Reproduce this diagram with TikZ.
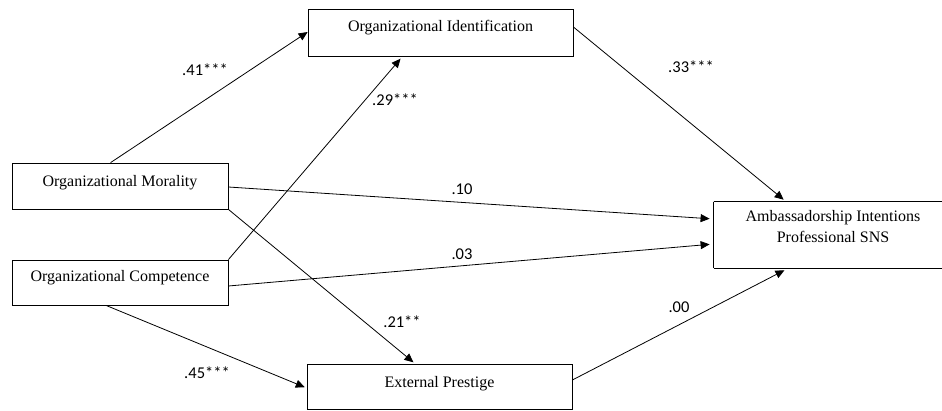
\documentclass[tikz,border=0pt]{standalone}
\usepackage{fontspec}
\setmainfont{Liberation Serif}
\newfontfamily\labelfont{Carlito}
\usetikzlibrary{arrows.meta,calc}
\tikzset{
  boxnode/.style={draw, line width=0.8pt, inner sep=0pt, font=\fontsize{16}{21}\selectfont},
  pathlabel/.style={inner sep=0pt, font=\labelfont\fontsize{16.5}{18}\selectfont},
  conn/.style={line width=0.8pt, -{Triangle[length=9pt,width=8pt]}}
}
\begin{document}
\begin{tikzpicture}[x=1pt,y=-1pt]
\useasboundingbox (0,0) rectangle (942,411);
% boxes
\node[boxnode, minimum width=265pt, text height=23pt, text depth=24pt] (OI) at (440.5,32.5) {Organizational Identification};
\node[boxnode, minimum width=216pt, text height=24pt, text depth=22pt] (OM) at (120,186) {Organizational Morality};
\node[boxnode, minimum width=216pt, text height=22pt, text depth=23pt] (OC) at (120,282.5) {Organizational Competence};
\node[boxnode, minimum width=265pt, text height=23pt, text depth=22pt] (EP) at (439.5,386.5) {External Prestige};
\node[boxnode, minimum width=238pt, text height=20pt, text depth=46pt, draw=none] (AI) at (833,235) {\begin{tabular}[t]{@{}c@{}}Ambassadorship Intentions\\Professional SNS\end{tabular}};
\draw[line width=0.8pt] ($(AI.north west)+(0,0)$) -- ($(AI.north east)+(20,0)$) ($(AI.south west)$) -- ($(AI.south east)+(20,0)$) (AI.north west) -- (AI.south west);
% connectors
\draw[conn] ($(OM.north west)+(99,0)$) -- ($(OI.west)+(0,-0.5)$);
\draw[conn, shorten >=3pt] (OC.north east) -- ($(OI.south)+(-38,0)$);
\draw[conn, shorten >=3pt] ($(OI.east)+(0,-5.5)$) -- ($(AI.north)+(-47,0)$);
\draw[conn, shorten >=4pt] ($(OM.east)+(0,1)$) -- ($(AI.west)+(0,-16)$);
\draw[conn, shorten >=4pt] ($(OC.east)+(0,3.5)$) -- ($(AI.west)+(0,9)$);
\draw[conn, shorten >=2pt] (OM.south east) -- ($(EP.north)+(-24.5,0)$);
\draw[conn, shorten >=2pt] ($(OC.south)+(-14,0)$) -- ($(EP.west)+(0,1.5)$);
\draw[conn, shorten >=4pt] ($(EP.east)+(0,-6.5)$) -- ($(AI.south)+(-45,0)$);
% labels
\node[pathlabel] (l41) at (205,70) {.41***};
\node[pathlabel] (l29) at (395,100) {.29***};
\node[pathlabel] (l33) at (691,67) {.33***};
\node[pathlabel] (l10) at (462,189) {.10};
\node[pathlabel] (l03) at (462,254) {.03};
\node[pathlabel] (l21) at (402,322) {.21**};
\node[pathlabel] (l45) at (207,373) {.45***};
\node[pathlabel] (l00) at (679,307) {.00};
\end{tikzpicture}
\end{document}
